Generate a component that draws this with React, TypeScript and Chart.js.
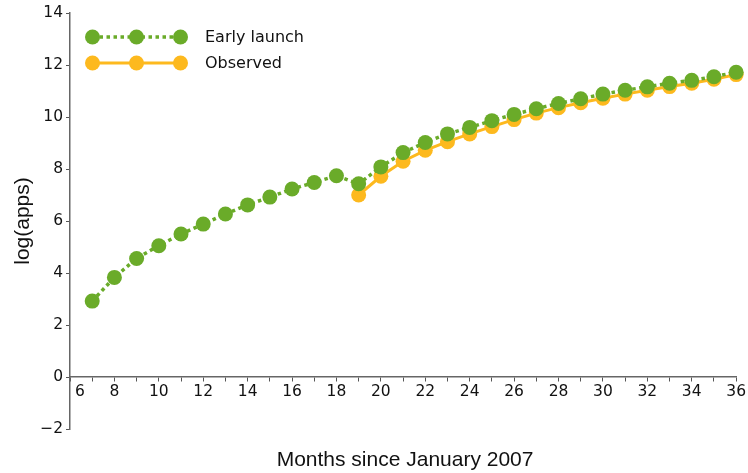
import React, { useEffect, useRef } from "react";
import { Chart, registerables } from "chart.js";

Chart.register(...registerables);

// ---- Data ----
const earlyMonths = [7, 8, 9, 10, 11, 12, 13, 14, 15, 16, 17, 18, 19, 20, 21, 22, 23, 24, 25, 26, 27, 28, 29, 30, 31, 32, 33, 34, 35, 36];
const earlyLaunch = [2.92, 3.83, 4.56, 5.05, 5.5, 5.88, 6.27, 6.62, 6.92, 7.23, 7.48, 7.74, 7.43, 8.08, 8.63, 9.02, 9.35, 9.6, 9.86, 10.1, 10.32, 10.52, 10.7, 10.88, 11.03, 11.16, 11.3, 11.41, 11.55, 11.72];
const observedMonths = [19, 20, 21, 22, 23, 24, 25, 26, 27, 28, 29, 30, 31, 32, 33, 34, 35, 36];
const observed = [7.0, 7.72, 8.3, 8.72, 9.05, 9.35, 9.63, 9.9, 10.15, 10.36, 10.55, 10.72, 10.88, 11.03, 11.17, 11.3, 11.45, 11.63];
const seriesNames = ["Early launch", "Observed"];
const xTitle = "Months since January 2007";
const yTitle = "log(apps)";

const GREEN = "#6aab29";
const ORANGE = "#fdb91e";
const TICK_FONT = { family: "DejaVu Sans", size: 15.5 };

const overlayPlugin = {
  id: "overlay",
  afterDraw(chart: any) {
    const ctx = chart.ctx;
    const area = chart.chartArea;
    ctx.save();
    // Legend
    const items = [
      { name: seriesNames[0], color: GREEN, dash: [3.5, 3.5], y: 37 },
      { name: seriesNames[1], color: ORANGE, dash: [], y: 63 },
    ];
    for (const it of items) {
      ctx.strokeStyle = it.color;
      ctx.lineWidth = it.dash.length ? 3.5 : 3;
      ctx.setLineDash(it.dash);
      ctx.beginPath();
      ctx.moveTo(92.5, it.y);
      ctx.lineTo(180.5, it.y);
      ctx.stroke();
      ctx.setLineDash([]);
      ctx.fillStyle = it.color;
      for (const px of [92.5, 136.5, 180.5]) {
        ctx.beginPath();
        ctx.arc(px, it.y, 7.5, 0, Math.PI * 2);
        ctx.fill();
      }
      ctx.fillStyle = "#111";
      ctx.font = '16px "DejaVu Sans"';
      ctx.textAlign = "left";
      ctx.textBaseline = "middle";
      ctx.fillText(it.name, 205, it.y + 1);
    }
    // Axis titles
    ctx.fillStyle = "#111";
    ctx.font = '21px "Liberation Sans"';
    ctx.textAlign = "center";
    ctx.textBaseline = "middle";
    ctx.fillText(xTitle, (area.left + area.right) / 2 + 2, 460);
    ctx.translate(23, (area.top + area.bottom) / 2);
    ctx.rotate(-Math.PI / 2);
    ctx.fillText(yTitle, 0, 0);
    ctx.restore();
  },
};

export default function App() {
  const ref = useRef<HTMLCanvasElement>(null);
  useEffect(() => {
    if (!ref.current) return;
    const chart = new Chart(ref.current, {
      type: "line",
      data: {
        datasets: [
          {
            label: seriesNames[0],
            data: earlyMonths.map((m, i) => ({ x: m, y: earlyLaunch[i] })),
            borderColor: GREEN,
            backgroundColor: GREEN,
            borderWidth: 3.5,
            borderDash: [3.5, 3.5],
            pointRadius: 7.5,
            pointBorderWidth: 0,
            pointBackgroundColor: GREEN,
            tension: 0,
            clip: false as any,
          },
          {
            label: seriesNames[1],
            data: observedMonths.map((m, i) => ({ x: m, y: observed[i] })),
            borderColor: ORANGE,
            backgroundColor: ORANGE,
            borderWidth: 3,
            pointRadius: 7.5,
            pointBorderWidth: 0,
            pointBackgroundColor: ORANGE,
            tension: 0,
            clip: false as any,
          },
        ],
      },
      options: {
        responsive: false,
        animation: false,
        layout: { padding: { left: 0, top: 13, right: 11, bottom: 44 } },
        plugins: { legend: { display: false }, tooltip: { enabled: false } },
        scales: {
          x: {
            type: "linear",
            min: 6,
            max: 36,
            position: { y: 0 } as any,
            afterFit: (s: any) => {
              s.height = 0;
            },
            grid: { drawOnChartArea: false, tickLength: 4, color: "#555", lineWidth: 1 },
            border: { color: "#666", width: 1.5 },
            ticks: {
              stepSize: 1,
              autoSkip: false,
              maxRotation: 0,
              padding: 2,
              color: "#111",
              font: TICK_FONT,
              callback: (v: any) => {
                const n = Number(v);
                if (n % 2 !== 0) return "";
                return n === 6 ? "    6" : String(n);
              },
            },
          },
          y: {
            type: "linear",
            min: -2,
            max: 14,
            position: "left",
            afterFit: (s: any) => {
              s.width = 70;
            },
            grid: { drawOnChartArea: false, tickLength: 4, color: "#555", lineWidth: 1 },
            border: { color: "#666", width: 1.5 },
            ticks: {
              stepSize: 2,
              padding: 3,
              color: "#111",
              font: TICK_FONT,
              callback: (v: any) => {
                const n = Number(v);
                return n < 0 ? "\u2212" + Math.abs(n) : String(n);
              },
            },
          },
        },
      },
      plugins: [overlayPlugin],
    });
    return () => chart.destroy();
  }, []);
  return (
    <div style={{ position: "absolute", left: 0, top: 0, width: 748, height: 473, background: "#fff" }}>
      <canvas ref={ref} width={748} height={473} />
    </div>
  );
}
